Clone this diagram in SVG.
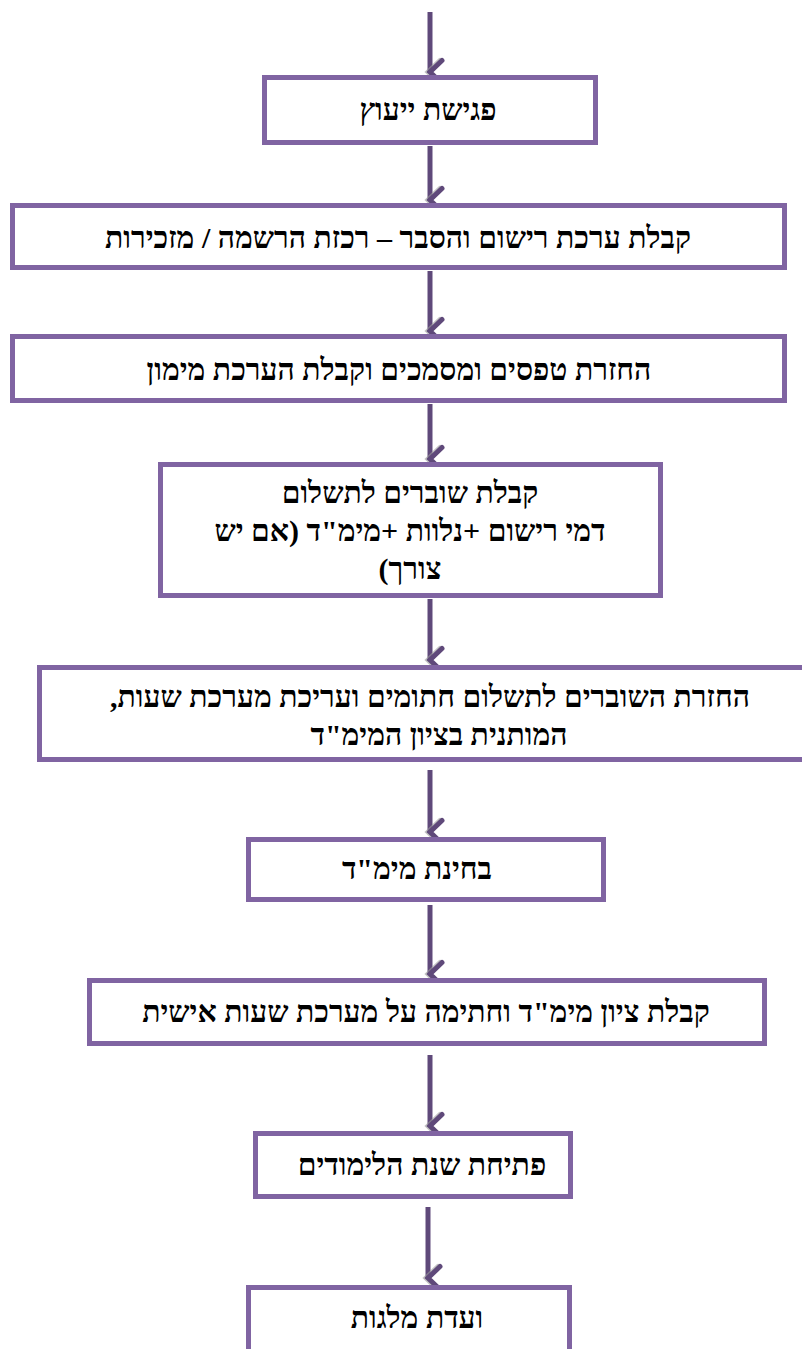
<svg xmlns="http://www.w3.org/2000/svg" width="802" height="1349" viewBox="0 0 802 1349">
<style>
.box{fill:#fff;stroke:#8064A2;stroke-width:5}
.t{font-family:'Liberation Serif','DejaVu Sans',serif;font-weight:bold;font-size:30px;fill:#000;text-anchor:middle;direction:rtl;unicode-bidi:embed}
.ar{stroke:#5F497A;stroke-width:5;fill:none}
</style>
<defs>
<marker id="head" markerUnits="userSpaceOnUse" markerWidth="30" markerHeight="30" refX="15" refY="22" orient="auto-start-reverse" viewBox="0 0 30 30">
<path d="M3.5,10 L15,22 L26.5,10" fill="none" stroke="#9a9a9a" stroke-width="5" stroke-linecap="round" transform="translate(0,2)" opacity="0.6"/>
<path d="M3.5,10 L15,22 L26.5,10" fill="none" stroke="#5F497A" stroke-width="5" stroke-linecap="round"/>
</marker>
</defs>
<g id="connectors">
<line class="ar" x1="430" y1="12" x2="430" y2="72" marker-end="url(#head)"/>
<line class="ar" x1="430" y1="146" x2="430" y2="200" marker-end="url(#head)"/>
<line class="ar" x1="430" y1="271" x2="430" y2="331" marker-end="url(#head)"/>
<line class="ar" x1="430" y1="404" x2="430" y2="459" marker-end="url(#head)"/>
<line class="ar" x1="430" y1="599" x2="430" y2="660" marker-end="url(#head)"/>
<line class="ar" x1="430" y1="770" x2="430" y2="832" marker-end="url(#head)"/>
<line class="ar" x1="430" y1="905" x2="430" y2="974" marker-end="url(#head)"/>
<line class="ar" x1="430" y1="1055" x2="430" y2="1126" marker-end="url(#head)"/>
<line class="ar" x1="428" y1="1207" x2="428" y2="1278" marker-end="url(#head)"/>
</g>
<g id="n1"><rect class="box" x="264.5" y="77.5" width="331" height="65"/><text class="t" x="428" y="120">פגישת ייעוץ</text></g>
<g id="n2"><rect class="box" x="12.5" y="205.5" width="772" height="62"/><text class="t" x="398" y="248">קבלת ערכת רישום והסבר – רכזת הרשמה / מזכירות</text></g>
<g id="n3"><rect class="box" x="12.5" y="336.5" width="772" height="64"/><text class="t" x="399" y="380">החזרת טפסים ומסמכים וקבלת הערכת מימון</text></g>
<g id="n4"><rect class="box" x="160.5" y="464.5" width="500" height="131"/><text class="t" x="410" y="503">קבלת שוברים לתשלום</text><text class="t" x="410" y="541">דמי רישום +נלוות +מימ"ד (אם יש</text><text class="t" x="410" y="579">צורך)</text></g>
<g id="n5"><rect class="box" x="39.5" y="667.5" width="790" height="92"/><text class="t" x="430" y="707">החזרת השוברים לתשלום חתומים ועריכת מערכת שעות,</text><text class="t" x="439" y="745">המותנית בציון המימ"ד</text></g>
<g id="n6"><rect class="box" x="248.5" y="839.5" width="355" height="60"/><text class="t" x="417" y="879">בחינת מימ"ד</text></g>
<g id="n7"><rect class="box" x="89.5" y="980.5" width="675" height="63"/><text class="t" x="426" y="1022">קבלת ציון מימ"ד וחתימה על מערכת שעות אישית</text></g>
<g id="n8"><rect class="box" x="255.5" y="1133.5" width="315" height="63"/><text class="t" x="422" y="1175">פתיחת שנת הלימודים</text></g>
<g id="n9"><rect class="box" x="248.5" y="1287.5" width="321" height="80"/><text class="t" x="417" y="1328">ועדת מלגות</text></g>
</svg>
